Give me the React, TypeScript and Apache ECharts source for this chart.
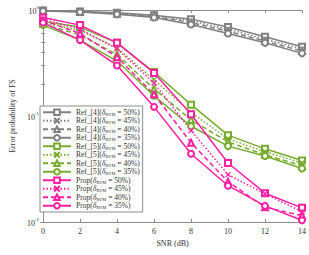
import React, { useEffect, useRef } from "react";
import * as echarts from "echarts";

const snr = [0, 2, 4, 6, 8, 10, 12, 14];
const pcts = ["50%", "45%", "40%", "35%"];
const ref4_50 = [0.99, 0.97, 0.94, 0.89, 0.82, 0.69, 0.56, 0.45];
const ref4_45 = [0.99, 0.965, 0.93, 0.88, 0.79, 0.66, 0.53, 0.43];
const ref4_40 = [0.985, 0.96, 0.92, 0.87, 0.76, 0.63, 0.51, 0.41];
const ref4_35 = [0.98, 0.955, 0.91, 0.85, 0.73, 0.6, 0.49, 0.39];
const ref5_50 = [0.78, 0.69, 0.49, 0.26, 0.128, 0.066, 0.049, 0.038];
const ref5_45 = [0.76, 0.64, 0.44, 0.22, 0.108, 0.061, 0.046, 0.036];
const ref5_40 = [0.74, 0.58, 0.38, 0.18, 0.092, 0.057, 0.043, 0.034];
const ref5_35 = [0.72, 0.52, 0.33, 0.155, 0.08, 0.052, 0.042, 0.032];
const prop_50 = [0.85, 0.72, 0.49, 0.255, 0.104, 0.036, 0.0187, 0.0136];
const prop_45 = [0.82, 0.66, 0.43, 0.205, 0.073, 0.028, 0.0185, 0.0125];
const prop_40 = [0.8, 0.6, 0.36, 0.16, 0.056, 0.024, 0.0138, 0.0115];
const prop_35 = [0.76, 0.52, 0.3, 0.122, 0.044, 0.022, 0.0142, 0.0104];

const groups = [
  { label: "Ref_[4]", color: "#808080", data: [ref4_50, ref4_45, ref4_40, ref4_35] },
  { label: "Ref_[5]", color: "#77ac30", data: [ref5_50, ref5_45, ref5_40, ref5_35] },
  { label: "Prop", color: "#ff1fa5", data: [prop_50, prop_45, prop_40, prop_35] },
];

const symbols = [
  "emptyRect",
  "path://M0,0L10,10M10,0L0,10",
  "emptyTriangle",
  "emptyCircle",
];
const dashes: any[] = ["solid", [1.5, 2], [5, 3], "solid"];

const FONT = "Liberation Serif";
const AX = "#8c8c8c";

export default function App() {
  const ref = useRef<HTMLDivElement>(null);
  useEffect(() => {
    const chart = echarts.init(ref.current!, null, { renderer: "svg" });
    const series: any[] = [];
    groups.forEach((g) => {
      g.data.forEach((d, i) => {
        series.push({
          name: g.label + "|" + pcts[i],
          type: "line",
          data: snr.map((x, k) => [x, d[k]]),
          symbol: symbols[i],
          symbolSize: i === 1 ? 5 : 6,
          lineStyle: { color: g.color, width: 1.5, type: dashes[i] },
          itemStyle: { color: g.color, borderColor: g.color, borderWidth: 1.3 },
          z: 3,
        });
      });
    });
    const xBase = {
      type: "value",
      min: 0,
      max: 14,
      interval: 2,
      axisLine: { show: true, lineStyle: { color: AX } },
      axisTick: { show: true, inside: true, length: 3, lineStyle: { color: AX } },
      splitLine: { show: false },
    };
    const yBase = {
      type: "log",
      logBase: 10,
      min: 0.01,
      max: 1,
      axisLine: { show: true, lineStyle: { color: AX } },
      axisTick: { show: true, inside: true, length: 3, lineStyle: { color: AX } },
      minorTick: { show: true, splitNumber: 9, length: 2, lineStyle: { color: AX } },
      splitLine: { show: false },
    };
    chart.setOption({
      animation: false,
      textStyle: { fontFamily: FONT },
      grid: { left: 37, right: 6, top: 10, bottom: 33, containLabel: false },
      xAxis: [
        {
          ...xBase,
          position: "bottom",
          name: "SNR (dB)",
          nameLocation: "middle",
          nameGap: 16,
          nameTextStyle: { fontFamily: FONT, fontSize: 8, color: "#333" },
          axisLabel: { fontFamily: FONT, fontSize: 8, color: "#333", margin: 5 },
        },
        { ...xBase, position: "top", axisLabel: { show: false } },
      ],
      yAxis: [
        {
          ...yBase,
          position: "left",
          name: "Error probability of FS",
          nameLocation: "middle",
          nameGap: 24,
          nameTextStyle: { fontFamily: FONT, fontSize: 8, color: "#333" },
          axisLabel: {
            margin: 4,
            formatter: (v: number) => {
              const e = Math.round(Math.log10(v));
              return "{b|10}{s|" + e + "}";
            },
            rich: {
              b: { fontFamily: FONT, fontSize: 8, color: "#333", verticalAlign: "bottom", lineHeight: 10 },
              s: { fontFamily: FONT, fontSize: 5, color: "#333", verticalAlign: "top", lineHeight: 10 },
            },
          },
        },
        { ...yBase, position: "right", axisLabel: { show: false } },
      ],
      legend: {
        orient: "vertical",
        left: 40,
        top: 106,
        padding: [2, 3, 2, 2],
        itemGap: 0,
        itemWidth: 28,
        itemHeight: 7,
        backgroundColor: "#fff",
        borderColor: AX,
        borderWidth: 1,
        formatter: (name: string) => {
          const [lab, p] = name.split("|");
          return "{n|" + lab + "(}{d|δ}{sub|RVM}{n| = " + p + ")}";
        },
        textStyle: {
          fontFamily: FONT,
          fontSize: 7.5,
          color: "#333",
          lineHeight: 8.5,
          rich: {
            n: { fontFamily: FONT, fontSize: 7.5, color: "#333", lineHeight: 8.5 },
            d: { fontFamily: FONT, fontSize: 8, fontStyle: "italic", color: "#333", lineHeight: 8.5 },
            sub: { fontFamily: FONT, fontSize: 4.5, color: "#333", verticalAlign: "bottom", lineHeight: 8.5 },
          },
        },
        data: series.map((s) => s.name),
      },
      series,
    });
    return () => chart.dispose();
  }, []);
  return (
    <div
      ref={ref}
      style={{ position: "absolute", left: 0, top: 0, width: 309, height: 255 }}
    />
  );
}
